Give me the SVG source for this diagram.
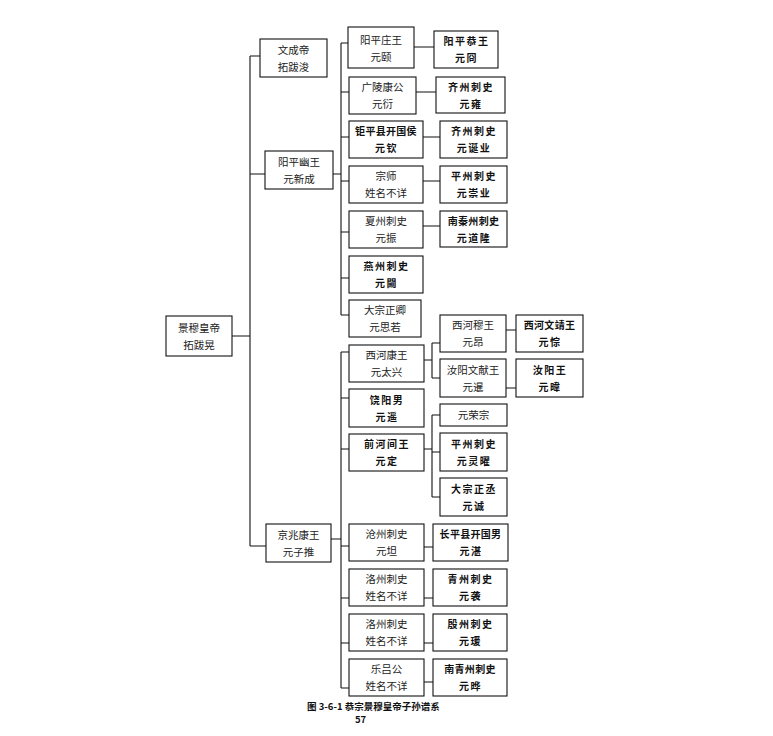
<svg xmlns="http://www.w3.org/2000/svg" width="773" height="736" viewBox="0 0 773 736">
<style>
rect.bx{fill:#fff;stroke:#111;stroke-width:1.1}
.t{font-family:"Noto Sans CJK SC","Noto Sans CJK JP",sans-serif;font-size:10.5px;fill:#222;text-anchor:middle}
.b{font-family:"Noto Sans CJK SC","Noto Sans CJK JP",sans-serif;font-size:10px;font-weight:bold;fill:#111;text-anchor:middle;letter-spacing:1.5px}
.n{letter-spacing:0.3px}
#connectors path{fill:none;stroke:#111;stroke-width:1.1}
.cap{font-family:"Noto Sans CJK SC","Noto Sans CJK JP",sans-serif;font-size:9.5px;font-weight:bold;fill:#111}
</style>
<rect width="773" height="736" fill="#fff"/>
<g id="connectors">
<path d="M232 336H250M250 56V546M250 56H260M250 174H265M250 546H266"/>
<path d="M333 174H341M341 43V315M341 43H348M341 92H349M341 137H349M341 181H349M341 232H349M341 278H349M341 315H349"/>
<path d="M414 47H434M416 92H436M423 137H440M423 181H440M423 226H440"/>
<path d="M331 539H341M341 352V688M341 352H349M341 398H349M341 449H349M341 546H349M341 598H349M341 643H349M341 688H349"/>
<path d="M424 360H432M432 343V378M432 343H440M432 378H440M506 330H516M506 388H516"/>
<path d="M424 449H432M432 415V497M432 415H440M432 452H440M432 497H440"/>
<path d="M424 547H433M424 598H433M424 643H433M424 682H433"/>
</g>
<g id="root"><rect class="bx" x="166" y="316" width="66" height="40"/><text class="t" x="199" y="331.5">景穆皇帝</text><text class="t" x="199" y="348.5">拓跋晃</text></g>
<g id="wenchengdi"><rect class="bx" x="260" y="39" width="67" height="38"/><text class="t" x="293.5" y="53.5">文成帝</text><text class="t" x="293.5" y="70.5">拓跋浚</text></g>
<g id="yangping"><rect class="bx" x="265" y="151" width="68" height="38"/><text class="t" x="299" y="165.5">阳平幽王</text><text class="t" x="299" y="182.5">元新成</text></g>
<g id="jingzhao"><rect class="bx" x="266" y="524" width="65" height="38"/><text class="t" x="298.5" y="538.5">京兆康王</text><text class="t" x="298.5" y="555.5">元子推</text></g>

<g id="a1"><rect class="bx" x="348" y="27" width="66" height="41"/><text class="t" x="381" y="43.5">阳平庄王</text><text class="t" x="381" y="60.5">元颐</text></g>
<g id="a2"><rect class="bx" x="349" y="77" width="67" height="37"/><text class="t" x="382.5" y="90.5">广陵康公</text><text class="t" x="382.5" y="107.5">元衍</text></g>
<g id="a3"><rect class="bx" x="349" y="121" width="74" height="37"/><text class="b n" x="386" y="134.5">钜平县开国侯</text><text class="b" x="386.5" y="151.5">元钦</text></g>
<g id="a4"><rect class="bx" x="349" y="166" width="74" height="37"/><text class="t" x="386" y="179.5">宗师</text><text class="t" x="386" y="196.5">姓名不详</text></g>
<g id="a5"><rect class="bx" x="349" y="211" width="74" height="37"/><text class="t" x="386" y="224.5">夏州刺史</text><text class="t" x="386" y="241.5">元振</text></g>
<g id="a6"><rect class="bx" x="349" y="256" width="74" height="37"/><text class="b" x="386.5" y="269.5">燕州刺史</text><text class="b" x="386.5" y="286.5">元闚</text></g>
<g id="a7"><rect class="bx" x="349" y="300" width="72" height="37"/><text class="t" x="385" y="313.5">大宗正卿</text><text class="t" x="385" y="330.5">元思若</text></g>

<g id="b1"><rect class="bx" x="434" y="31" width="64" height="37"/><text class="b" x="466.5" y="44.5">阳平恭王</text><text class="b" x="466.5" y="61.5">元冏</text></g>
<g id="b2"><rect class="bx" x="436" y="77" width="69" height="36"/><text class="b" x="471" y="90.5">齐州刺史</text><text class="b" x="471" y="107.5">元雍</text></g>
<g id="b3"><rect class="bx" x="440" y="121" width="67" height="37"/><text class="b" x="474" y="134.5">齐州刺史</text><text class="b" x="474" y="151.5">元诞业</text></g>
<g id="b4"><rect class="bx" x="440" y="166" width="67" height="37"/><text class="b" x="474" y="179.5">平州刺史</text><text class="b" x="474" y="196.5">元崇业</text></g>
<g id="b5"><rect class="bx" x="440" y="211" width="67" height="36"/><text class="b n" x="473.5" y="224.5">南秦州刺史</text><text class="b" x="474" y="241.5">元道隆</text></g>

<g id="c1"><rect class="bx" x="349" y="345" width="75" height="37"/><text class="t" x="386.5" y="358.5">西河康王</text><text class="t" x="386.5" y="375.5">元太兴</text></g>
<g id="c2"><rect class="bx" x="349" y="389" width="75" height="38"/><text class="b" x="387" y="403.5">饶阳男</text><text class="b" x="387" y="420.5">元遥</text></g>
<g id="c3"><rect class="bx" x="349" y="434" width="75" height="37"/><text class="b" x="387" y="447.5">前河间王</text><text class="b" x="387" y="464.5">元定</text></g>
<g id="c4"><rect class="bx" x="349" y="524" width="75" height="37"/><text class="t" x="386.5" y="537.5">沧州刺史</text><text class="t" x="386.5" y="554.5">元坦</text></g>
<g id="c5"><rect class="bx" x="349" y="569" width="75" height="37"/><text class="t" x="386.5" y="582.5">洛州刺史</text><text class="t" x="386.5" y="599.5">姓名不详</text></g>
<g id="c6"><rect class="bx" x="349" y="614" width="75" height="37"/><text class="t" x="386.5" y="627.5">洛州刺史</text><text class="t" x="386.5" y="644.5">姓名不详</text></g>
<g id="c7"><rect class="bx" x="349" y="659" width="75" height="37"/><text class="t" x="386.5" y="672.5">乐吕公</text><text class="t" x="386.5" y="689.5">姓名不详</text></g>

<g id="d1"><rect class="bx" x="440" y="315" width="66" height="37"/><text class="t" x="473" y="328.5">西河穆王</text><text class="t" x="473" y="345.5">元昂</text></g>
<g id="d2"><rect class="bx" x="440" y="359" width="66" height="38"/><text class="t" x="473" y="373.5">汝阳文献王</text><text class="t" x="473" y="390.5">元暹</text></g>
<g id="d3"><rect class="bx" x="440" y="404" width="67" height="22"/><text class="t" x="473.5" y="419">元荣宗</text></g>
<g id="d4"><rect class="bx" x="440" y="433" width="67" height="38"/><text class="b" x="474" y="447.5">平州刺史</text><text class="b" x="474" y="464.5">元灵曜</text></g>
<g id="d5"><rect class="bx" x="440" y="478" width="67" height="38"/><text class="b" x="474" y="492.5">大宗正丞</text><text class="b" x="474" y="509.5">元诚</text></g>
<g id="d6"><rect class="bx" x="433" y="524" width="75" height="37"/><text class="b n" x="470.5" y="537.5">长平县开国男</text><text class="b" x="471" y="554.5">元湛</text></g>
<g id="d7"><rect class="bx" x="433" y="569" width="74" height="37"/><text class="b" x="470.5" y="582.5">青州刺史</text><text class="b" x="470.5" y="599.5">元袭</text></g>
<g id="d8"><rect class="bx" x="433" y="614" width="74" height="37"/><text class="b" x="470.5" y="627.5">殷州刺史</text><text class="b" x="470.5" y="644.5">元瑗</text></g>
<g id="d9"><rect class="bx" x="433" y="659" width="74" height="37"/><text class="b n" x="470" y="672.5">南青州刺史</text><text class="b" x="470.5" y="689.5">元晔</text></g>

<g id="e1"><rect class="bx" x="516" y="315" width="67" height="37"/><text class="b n" x="549.5" y="328.5">西河文靖王</text><text class="b" x="550" y="345.5">元悰</text></g>
<g id="e2"><rect class="bx" x="516" y="359" width="67" height="38"/><text class="b" x="550" y="373.5">汝阳王</text><text class="b" x="550" y="390.5">元暐</text></g>

<g id="caption"><text class="cap" x="307" y="710">图 3-6-1  恭宗景穆皇帝子孙谱系</text><text class="cap" x="355" y="723">57</text></g>
</svg>
